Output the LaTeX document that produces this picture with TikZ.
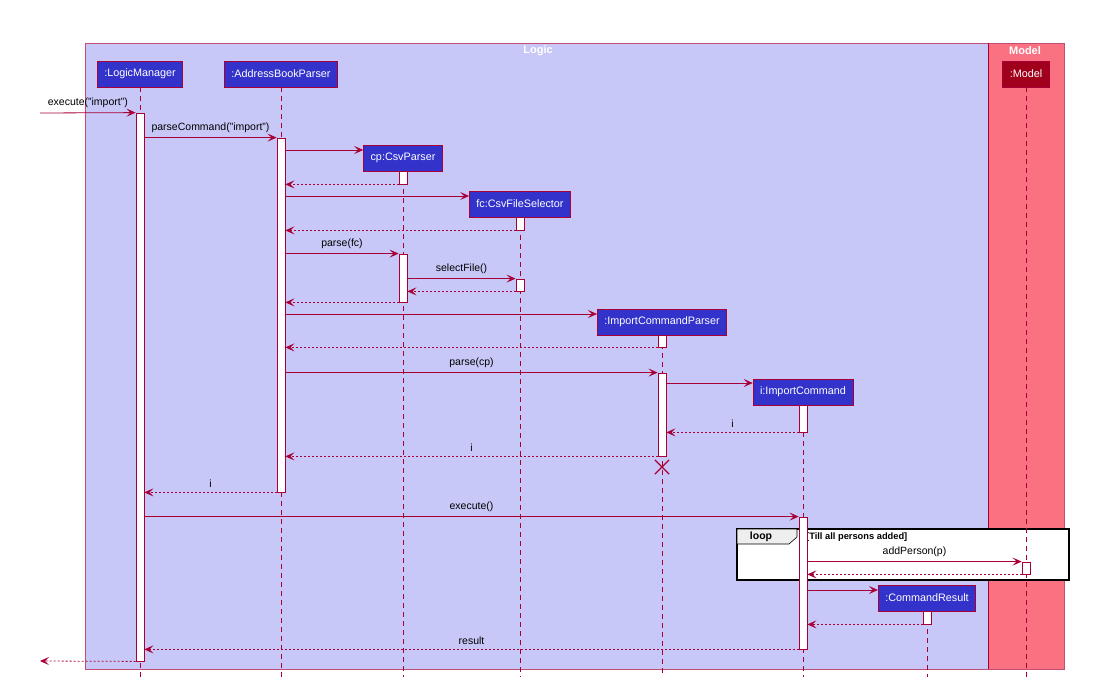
\documentclass[tikz,border=0pt]{standalone}
\usepackage{fontspec}
\setmainfont{Liberation Sans}
\usetikzlibrary{arrows.meta,shapes.misc}

\definecolor{crim}{HTML}{A80036}
\definecolor{lav}{HTML}{C8C8F8}
\definecolor{modelbg}{HTML}{FA7282}
\definecolor{partblue}{HTML}{3333CC}
\definecolor{modelpart}{HTML}{A0001C}
\definecolor{tabgray}{HTML}{EEEEEE}

\tikzset{
  part/.style={draw=crim, line width=.8pt, fill=partblue, text=white, minimum height=26pt,
    inner xsep=7pt, font=\fontsize{10.8}{12}\selectfont},
  act/.style={draw=crim, fill=white, minimum width=8pt, inner sep=0pt, line width=.8pt},
  life/.style={crim, dash pattern=on 5pt off 4pt, line width=.7pt},
  msg/.style={crim, line width=.8pt, -{Stealth[length=9pt,width=8pt,inset=4pt]}},
  ret/.style={msg, dash pattern=on 2pt off 2pt},
  lbl/.style={above=1pt, text=black, font=\fontsize{10.5}{12}\selectfont},
  title/.style={text=white, font=\fontsize{11}{13}\selectfont\bfseries},
  destroy/.style={cross out, draw=crim, line width=1.2pt, minimum size=13pt, inner sep=0pt},
}

\begin{document}
\begin{tikzpicture}[x=1pt,y=-1pt]
\useasboundingbox (0,0) rectangle (1094,695);
% boxes
\draw[crim!70, fill=lav, line width=.8pt] (85,43) rectangle (988,669);
\draw[crim!70, fill=modelbg, line width=.8pt] (988,43) rectangle (1064,669);
\draw[crim, line width=1pt] (988,43) -- (988,669);
\node[title] (tLogic) at (538,51) {Logic};
\node[title] (tModel) at (1025,51) {Model};

% loop frame
\draw[black, line width=1.3pt, fill=white] (737,529) rectangle (1069,580);
\draw[black, line width=.6pt, fill=tabgray] (737,529) -- (797,529) -- (797,537) -- (789,544) -- (737,544) -- cycle;
\node[font=\fontsize{10.5}{12}\selectfont\bfseries] (tLoop) at (761,537) {loop};
\node[anchor=west, inner sep=0pt, font=\fontsize{9.3}{11}\selectfont\bfseries] (tGuard) at (806,537) {[Till all persons added]};

% participants
\coordinate (bottom) at (0,677);
\node[part] (lm) at (140,74) {:LogicManager};
\node[part] (abp) at (281,74) {:AddressBookParser};
\node[part] (cp) at (403,158) {cp:CsvParser};
\node[part] (fc) at (520,204) {fc:CsvFileSelector};
\node[part] (icp) at (662,322) {:ImportCommandParser};
\node[part] (ic) at (803,392) {i:ImportCommand};
\node[part] (cr) at (927,598) {:CommandResult};
\node[part, fill=modelpart] (mdl) at (1026,74) {:Model};

% lifelines
\foreach \p in {lm,abp,cp,fc,icp,ic,cr,mdl}
  \draw[life] (\p.south) -- (\p |- bottom);

% activations
\node[act, minimum height=548pt] (aLM) at (140,387) {};
\node[act, minimum height=354pt] (aABP) at (281,315) {};
\node[act, minimum height=13pt] (aCP1) at (403,177.5) {};
\node[act, minimum height=48pt] (aCP2) at (403,278) {};
\node[act, minimum height=13pt] (aFC1) at (520,223.5) {};
\node[act, minimum height=12pt] (aFC2) at (520,285) {};
\node[act, minimum height=12pt] (aICP1) at (662,341) {};
\node[act, minimum height=83pt] (aICP2) at (662,414.5) {};
\node[act, minimum height=27pt] (aIC1) at (803,418.5) {};
\node[act, minimum height=132pt] (aIC2) at (803,583) {};
\node[act, minimum height=12pt] (aM) at (1026,568) {};
\node[act, minimum height=13pt] (aCR) at (927,617.5) {};
\node[destroy] (xICP) at (662,467) {};

% messages
\coordinate (inL) at (40,113);
\coordinate (outL) at (40,661);
\draw[msg] (inL) -- node[lbl]{execute("import")} (aLM.north west);
\draw[msg] (aLM.east |- aABP.north) -- node[lbl]{parseCommand("import")} (aABP.north west);
\draw[msg] (aABP.east |- 0,150) -- (cp.west |- 0,150);
\draw[ret] (aCP1.south west) -- (aABP.east |- aCP1.south);
\draw[msg] (aABP.east |- 0,196) -- (fc.west |- 0,196);
\draw[ret] (aFC1.south west) -- (aABP.east |- aFC1.south);
\draw[msg] (aABP.east |- aCP2.north) -- node[lbl]{parse(fc)} (aCP2.north west);
\draw[msg] (aCP2.east |- aFC2.north) -- node[lbl]{selectFile()} (aFC2.north west);
\draw[ret] (aFC2.south west) -- (aCP2.east |- aFC2.south);
\draw[ret] (aCP2.south west) -- (aABP.east |- aCP2.south);
\draw[msg] (aABP.east |- 0,314) -- (icp.west |- 0,314);
\draw[ret] (aICP1.south west) -- (aABP.east |- aICP1.south);
\draw[msg] (aABP.east |- aICP2.north) -- node[lbl]{parse(cp)} (aICP2.north west);
\draw[msg] (aICP2.east |- 0,383) -- (ic.west |- 0,383);
\draw[ret] (aIC1.south west) -- node[lbl]{i} (aICP2.east |- aIC1.south);
\draw[ret] (aICP2.south west) -- node[lbl]{i} (aABP.east |- aICP2.south);
\draw[ret] (aABP.south west) -- node[lbl]{i} (aLM.east |- aABP.south);
\draw[msg] (aLM.east |- aIC2.north) -- node[lbl]{execute()} (aIC2.north west);
\draw[msg] (aIC2.east |- aM.north) -- node[lbl]{addPerson(p)} (aM.north west);
\draw[ret] (aM.south west) -- (aIC2.east |- aM.south);
\draw[msg] (aIC2.east |- 0,590) -- (cr.west |- 0,590);
\draw[ret] (aCR.south west) -- (aIC2.east |- aCR.south);
\draw[ret] (aIC2.south west) -- node[lbl]{result} (aLM.east |- aIC2.south);
\draw[ret] (aLM.south west) -- (outL);
\end{tikzpicture}
\end{document}
